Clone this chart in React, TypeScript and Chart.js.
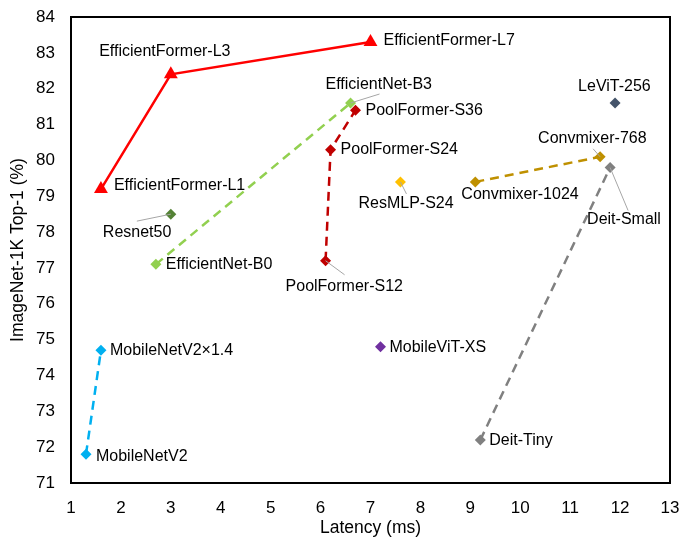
import React, { useEffect, useRef } from "react";
import { Chart, registerables } from "chart.js";

Chart.register(...registerables);

// ---- data ----
const effFormerNames = ["EfficientFormer-L1", "EfficientFormer-L3", "EfficientFormer-L7"];
const effFormerLatency = [1.6, 3.0, 7.0];
const effFormerTop1 = [79.2, 82.4, 83.3];

const effNetNames = ["EfficientNet-B0", "EfficientNet-B3"];
const effNetLatency = [2.7, 6.6];
const effNetTop1 = [77.1, 81.6];

const poolNames = ["PoolFormer-S12", "PoolFormer-S24", "PoolFormer-S36"];
const poolLatency = [6.1, 6.2, 6.7];
const poolTop1 = [77.2, 80.3, 81.4];

const mobileNames = ["MobileNetV2", "MobileNetV2×1.4"];
const mobileLatency = [1.3, 1.6];
const mobileTop1 = [71.8, 74.7];

const convNames = ["Convmixer-1024", "Convmixer-768"];
const convLatency = [9.1, 11.6];
const convTop1 = [79.4, 80.1];

const deitNames = ["Deit-Tiny", "Deit-Small"];
const deitLatency = [9.2, 11.8];
const deitTop1 = [72.2, 79.8];

const resnetNames = ["Resnet50"];
const resnetLatency = [3.0];
const resnetTop1 = [78.5];

const mvitNames = ["MobileViT-XS"];
const mvitLatency = [7.2];
const mvitTop1 = [74.8];

const resmlpNames = ["ResMLP-S24"];
const resmlpLatency = [7.6];
const resmlpTop1 = [79.4];

const levitNames = ["LeViT-256"];
const levitLatency = [11.9];
const levitTop1 = [81.6];

const xTicks = [1, 2, 3, 4, 5, 6, 7, 8, 9, 10, 11, 12, 13];
const yTicks = [71, 72, 73, 74, 75, 76, 77, 78, 79, 80, 81, 82, 83, 84];

// ---- label styling (pixel offsets from the point) ----
type LabelStyle = { dx: number; dy: number; align?: CanvasTextAlign; leader?: [number, number] };
const labelStyles: Record<string, LabelStyle> = {
  "EfficientFormer-L1": { dx: 13, dy: -3 },
  "EfficientFormer-L3": { dx: -6, dy: -23, align: "center" },
  "EfficientFormer-L7": { dx: 13, dy: -1 },
  "EfficientNet-B0": { dx: 10, dy: 0 },
  "EfficientNet-B3": { dx: -25, dy: -18, leader: [29, -9] },
  "PoolFormer-S12": { dx: -40, dy: 26, leader: [19, 14] },
  "PoolFormer-S24": { dx: 10, dy: 0 },
  "PoolFormer-S36": { dx: 10, dy: 0 },
  "MobileNetV2": { dx: 10, dy: 2 },
  "MobileNetV2×1.4": { dx: 9, dy: 0 },
  "Convmixer-1024": { dx: -14, dy: 13 },
  "Convmixer-768": { dx: -62, dy: -18, leader: [-7, -8] },
  "Deit-Tiny": { dx: 9, dy: 1 },
  "Deit-Small": { dx: -23, dy: 52, leader: [18, 43] },
  "Resnet50": { dx: -68, dy: 18, leader: [-34, 7] },
  "MobileViT-XS": { dx: 9, dy: 1 },
  "ResMLP-S24": { dx: -42, dy: 22, leader: [6, 12] },
  "LeViT-256": { dx: -37, dy: -16 },
};

const FONT = "'Liberation Sans', Arial, sans-serif";

function makeSeries(
  names: string[],
  xs: number[],
  ys: number[],
  color: string,
  opts: { line?: boolean; dash?: number[]; style?: string; radius?: number }
) {
  return {
    label: names.join(","),
    names,
    data: xs.map((x, i) => ({ x, y: ys[i] })),
    showLine: !!opts.line,
    borderColor: color,
    backgroundColor: color,
    borderWidth: 2.5,
    borderDash: opts.dash || [],
    pointStyle: opts.style || "rectRot",
    pointRadius: opts.radius ?? 5.5,
    pointBorderWidth: 0,
    pointBackgroundColor: color,
    pointBorderColor: color,
  } as any;
}

const labelPlugin = {
  id: "pointLabels",
  afterDatasetsDraw(chart: any) {
    const ctx = chart.ctx;
    const area = chart.chartArea;
    ctx.save();
    ctx.font = `16px ${FONT}`;
    ctx.fillStyle = "#000";
    ctx.textBaseline = "middle";
    chart.data.datasets.forEach((ds: any, di: number) => {
      const meta = chart.getDatasetMeta(di);
      meta.data.forEach((el: any, i: number) => {
        const name = ds.names[i];
        const st = labelStyles[name] || { dx: 8, dy: 0 };
        if (st.leader) {
          ctx.save();
          ctx.strokeStyle = "#a6a6a6";
          ctx.lineWidth = 1;
          ctx.beginPath();
          ctx.moveTo(el.x, el.y);
          ctx.lineTo(el.x + st.leader[0], el.y + st.leader[1]);
          ctx.stroke();
          ctx.restore();
        }
        ctx.textAlign = st.align || "left";
        ctx.fillText(name, el.x + st.dx, el.y + st.dy);
      });
    });
    // plot border
    ctx.strokeStyle = "#000";
    ctx.lineWidth = 2;
    ctx.strokeRect(area.left, area.top, area.right - area.left, area.bottom - area.top);
    ctx.restore();
  },
};

export default function App() {
  const ref = useRef<HTMLCanvasElement>(null);
  useEffect(() => {
    document.body.style.margin = "0";
    const canvas = ref.current!;
    const datasets = [
      makeSeries(effFormerNames, effFormerLatency, effFormerTop1, "#ff0000", { line: true, style: "triangle", radius: 8 }),
      makeSeries(effNetNames, effNetLatency, effNetTop1, "#92d050", { line: true, dash: [9, 6] }),
      makeSeries(poolNames, poolLatency, poolTop1, "#c00000", { line: true, dash: [9, 6] }),
      makeSeries(mobileNames, mobileLatency, mobileTop1, "#00b0f0", { line: true, dash: [9, 6] }),
      makeSeries(convNames, convLatency, convTop1, "#bf9000", { line: true, dash: [9, 6] }),
      makeSeries(deitNames, deitLatency, deitTop1, "#808080", { line: true, dash: [9, 6] }),
      makeSeries(resnetNames, resnetLatency, resnetTop1, "#548235", {}),
      makeSeries(mvitNames, mvitLatency, mvitTop1, "#7030a0", {}),
      makeSeries(resmlpNames, resmlpLatency, resmlpTop1, "#ffc000", {}),
      makeSeries(levitNames, levitLatency, levitTop1, "#44546a", {}),
    ];
    const chart = new Chart(canvas, {
      type: "scatter",
      data: { datasets },
      plugins: [labelPlugin],
      options: {
        animation: false,
        responsive: false,
        devicePixelRatio: 1,
        layout: { padding: { top: 17, right: 13, left: 0, bottom: 0 } },
        plugins: { legend: { display: false }, tooltip: { enabled: false } },
        scales: {
          x: {
            type: "linear",
            min: xTicks[0],
            max: xTicks[xTicks.length - 1],
            afterBuildTicks: (s: any) => {
              s.ticks = xTicks.map((v) => ({ value: v }));
            },
            afterFit: (s: any) => {
              s.height = 54;
              s.paddingLeft = 0;
              s.paddingRight = 0;
            },
            grid: { display: false, drawTicks: false },
            border: { display: false },
            ticks: { color: "#000", font: { family: FONT, size: 17 }, padding: 15, maxRotation: 0, autoSkip: false },
            title: {
              display: true,
              text: "Latency (ms)",
              color: "#000",
              font: { family: FONT, size: 17.5, lineHeight: 1 },
              padding: { top: 4, bottom: 0 },
            },
          },
          y: {
            type: "linear",
            min: yTicks[0],
            max: yTicks[yTicks.length - 1],
            afterBuildTicks: (s: any) => {
              s.ticks = yTicks.map((v) => ({ value: v }));
            },
            afterFit: (s: any) => {
              s.width = 71;
              s.paddingTop = 0;
              s.paddingBottom = 0;
            },
            grid: { display: false, drawTicks: false },
            border: { display: false },
            ticks: { color: "#000", font: { family: FONT, size: 17 }, padding: 16, autoSkip: false },
            title: {
              display: true,
              text: "ImageNet-1K Top-1 (%)",
              color: "#000",
              font: { family: FONT, size: 17.5 },
              padding: { top: 8, bottom: 0 },
            },
          },
        },
      },
    } as any);
    return () => chart.destroy();
  }, []);
  return (
    <div style={{ position: "absolute", left: 0, top: 0, width: 683, height: 537, background: "#fff" }}>
      <canvas ref={ref} width={683} height={537} style={{ width: 683, height: 537, display: "block" }} />
    </div>
  );
}
